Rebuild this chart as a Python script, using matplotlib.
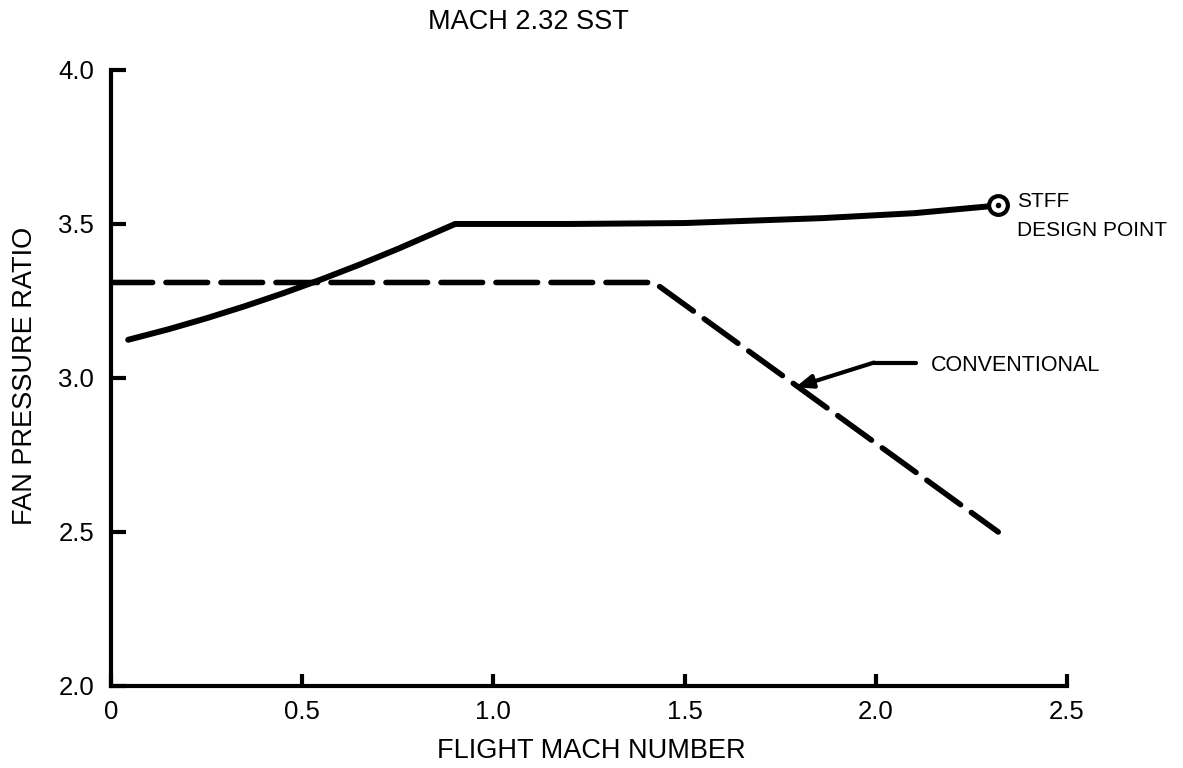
import matplotlib
matplotlib.use("Agg")
import matplotlib.pyplot as plt

plt.rcParams["font.family"] = ["Liberation Sans", "DejaVu Sans"]

# STFF fan schedule (solid) and conventional fan schedule (dashed)
stff_mach = [0.045, 0.15, 0.25, 0.35, 0.45, 0.55, 0.65, 0.75, 0.90,
             1.20, 1.50, 1.86, 2.10, 2.32]
stff_fpr = [3.124, 3.158, 3.194, 3.233, 3.275, 3.320, 3.368, 3.419, 3.50,
            3.50, 3.503, 3.519, 3.535, 3.56]

conv_mach = [0.0, 1.42, 2.32]
conv_fpr = [3.31, 3.31, 2.50]

design_mach = 2.32
design_fpr = 3.56

x_ticks = [0, 0.5, 1.0, 1.5, 2.0, 2.5]
x_labels = ["0", "0.5", "1.0", "1.5", "2.0", "2.5"]
y_ticks = [2.0, 2.5, 3.0, 3.5, 4.0]
y_labels = ["2.0", "2.5", "3.0", "3.5", "4.0"]

fig = plt.figure(figsize=(11.83, 7.68), dpi=100)
ax = fig.add_axes([0.0938, 0.1068, 0.8082, 0.8021])

ax.plot(stff_mach, stff_fpr, color="black", lw=4.3, solid_capstyle="round",
        zorder=3)
ax.plot(conv_mach, conv_fpr, color="black", lw=4.0, dashes=(7.5, 2.4),
        dash_capstyle="round", zorder=3)

# design point marker: open circle with centre dot
ax.plot([design_mach], [design_fpr], marker="o", ms=13.5, mfc="white",
        mec="black", mew=3, zorder=4)
ax.plot([design_mach], [design_fpr], marker="o", ms=3, color="black",
        zorder=5)
ax.text(2.37, 3.526, "STFF\nDESIGN POINT", fontsize=15, va="center",
        ha="left", linespacing=1.7)

# conventional label with leader arrow
ax.plot([1.995, 2.105], [3.05, 3.05], color="black", lw=3,
        solid_capstyle="round")
ax.annotate("", xy=(1.79, 2.97), xytext=(1.995, 3.05),
            arrowprops=dict(arrowstyle="-|>,head_length=1.0,head_width=0.4",
                            color="black", lw=3, shrinkA=0, shrinkB=0))
ax.text(2.143, 3.04, "CONVENTIONAL", fontsize=15.5, va="center", ha="left")

ax.set_xlim(0, 2.5)
ax.set_ylim(2.0, 4.0)
ax.set_xticks(x_ticks)
ax.set_xticklabels(x_labels)
ax.set_yticks(y_ticks)
ax.set_yticklabels(y_labels)
ax.tick_params(axis="x", direction="in", length=9, width=3,
               labelsize=18.5, pad=10)
ax.tick_params(axis="y", direction="in", length=11, width=3,
               labelsize=18.5, pad=12)

for side in ["top", "right"]:
    ax.spines[side].set_visible(False)
for side in ["left", "bottom"]:
    ax.spines[side].set_linewidth(3)

fig.text(0.447, 0.971, "MACH 2.32 SST", fontsize=19.5, ha="center",
         va="center")
fig.text(0.5, 0.022, "FLIGHT MACH NUMBER", fontsize=19.5, ha="center",
         va="center")
fig.text(0.021, 0.51, "FAN PRESSURE RATIO", fontsize=19.5, ha="center",
         va="center", rotation=90)

fig.savefig("out.png", dpi=100)
